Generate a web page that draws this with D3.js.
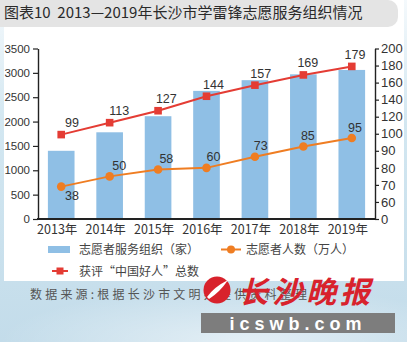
<!DOCTYPE html>
<html>
<head>
<meta charset="utf-8">
<script src="https://cdn.jsdelivr.net/npm/d3@7"></script>
<style>
  html, body { margin: 0; padding: 0; background: #fff; }
  svg { display: block; }
</style>
</head>
<body>
<svg id="chart" width="407" height="342"></svg>
<script>
// 2013–2019 volunteer service data
const years = ["2013年", "2014年", "2015年", "2016年", "2017年", "2018年", "2019年"];
const orgCounts = [1400, 1780, 2110, 2630, 2850, 2970, 3060];   // 志愿者服务组织（家）
const volunteers = [38, 50, 58, 60, 73, 85, 95];                 // 志愿者人数（万人）
const goodPeople = [99, 113, 127, 144, 157, 169, 179];           // 获评“中国好人”总数

const leftTicks = [0, 500, 1000, 1500, 2000, 2500, 3000, 3500];
const rightTickValues = [0, 20, 40, 60, 80, 100, 120, 140, 160, 180, 200];
const rightTickLabels = ["0", "60", "70", "80", "90", "100", "120", "140", "160", "180", "200"];

const titleText = "图表10\u00A0\u00A02013—2019年长沙市学雷锋志愿服务组织情况";
const legendLabels = ["志愿者服务组织（家）", "志愿者人数（万人）", "获评“中国好人”总数"];
const sourceText = "数据来源:根据长沙市文明办提供资料整理";

const C = {
  bar: "#8fbfe5",
  red: "#e43c34",
  orange: "#ef7d22",
  axis: "#222",
  text: "#333"
};
const numFont = "'Liberation Sans', Arial, sans-serif";
const cjkFont = "'Noto Sans CJK SC', 'Noto Sans', sans-serif";

const svg = d3.select("#chart");

// background: pale blue wash behind the white panel
const defs = svg.append("defs");
const bg = defs.append("linearGradient").attr("id", "bgGrad")
  .attr("x1", 0).attr("y1", 0).attr("x2", 0).attr("y2", 1);
bg.append("stop").attr("offset", "0%").attr("stop-color", "#f4f9fc");
bg.append("stop").attr("offset", "35%").attr("stop-color", "#d3e7f1");
bg.append("stop").attr("offset", "100%").attr("stop-color", "#c3dcea");
const haze = defs.append("radialGradient").attr("id", "haze")
  .attr("cx", 0.6).attr("cy", 1).attr("r", 0.6);
haze.append("stop").attr("offset", "0%").attr("stop-color", "#ffffff").attr("stop-opacity", 0.55);
haze.append("stop").attr("offset", "100%").attr("stop-color", "#ffffff").attr("stop-opacity", 0);

svg.append("rect").attr("width", 407).attr("height", 342).attr("fill", "url(#bgGrad)");
svg.append("rect").attr("y", 250).attr("width", 407).attr("height", 92).attr("fill", "url(#haze)");

// white chart panel
svg.append("rect").attr("x", 4).attr("y", 0).attr("width", 400).attr("height", 281).attr("fill", "#fff");

// title bar with rounded right end
svg.append("path")
  .attr("d", "M0,0 H388 A10,10 0 0 1 398,10 V17 A10,10 0 0 1 388,27 H0 Z")
  .attr("fill", "#e4e4e4");
svg.append("text")
  .attr("x", 4).attr("y", 18)
  .attr("font-family", cjkFont).attr("font-size", 15)
  .attr("fill", "#2a2a2a")
  .text(titleText);

// scales
const x = d3.scaleBand().domain(years).range([37, 376]).paddingInner(0.45).paddingOuter(0.225);
const yL = d3.scaleLinear().domain([0, 3500]).range([219, 48.5]);
const yR = d3.scaleLinear().domain([0, 200]).range([219, 48.5]);
const labelX = d3.scalePoint().domain(years).range([72, 355]);
const cx = d => x(d) + x.bandwidth() / 2;

// bars
svg.append("g").selectAll("rect").data(years).join("rect")
  .attr("x", d => x(d))
  .attr("y", (d, i) => yL(orgCounts[i]))
  .attr("width", x.bandwidth())
  .attr("height", (d, i) => yL(0) - yL(orgCounts[i]))
  .attr("fill", C.bar);

// left axis
const gL = svg.append("g").attr("transform", "translate(38,0)")
  .call(d3.axisLeft(yL).tickValues(leftTicks).tickSize(5).tickSizeOuter(0).tickPadding(3).tickFormat(d3.format("d")));
// right axis
const gR = svg.append("g").attr("transform", "translate(375,0)")
  .call(d3.axisRight(yR).tickValues(rightTickValues).tickSize(4).tickSizeOuter(0).tickPadding(2)
    .tickFormat((d, i) => rightTickLabels[i]));

gL.selectAll("text").attr("font-family", numFont).attr("font-size", 11.5).attr("fill", C.text);
gR.selectAll("text").attr("font-family", numFont).attr("font-size", 13).attr("fill", C.text);
[gL, gR].forEach(g => {
  g.select(".domain").attr("stroke", C.axis).attr("stroke-width", 1.4);
  g.selectAll(".tick line").attr("stroke", C.axis).attr("stroke-width", 1.2);
});

// baseline axis with year labels
svg.append("line").attr("x1", 37).attr("x2", 376).attr("y1", 219).attr("y2", 219)
  .attr("stroke", C.axis).attr("stroke-width", 2);
svg.append("g").selectAll("text").data(years).join("text")
  .attr("x", d => cx(d) - 4).attr("y", 234)
  .attr("text-anchor", "middle")
  .attr("font-family", cjkFont).attr("font-size", 12.5).attr("fill", C.text)
  .text(d => d);

// lines
const line = d3.line().x(d => cx(d.year)).y(d => yR(d.value));
const redPts = years.map((year, i) => ({ year, value: goodPeople[i] }));
const orangePts = years.map((year, i) => ({ year, value: volunteers[i] }));

svg.append("path").datum(orangePts).attr("d", line)
  .attr("fill", "none").attr("stroke", C.orange).attr("stroke-width", 2);
svg.append("path").datum(redPts).attr("d", line)
  .attr("fill", "none").attr("stroke", C.red).attr("stroke-width", 2);

svg.append("g").selectAll("circle").data(orangePts).join("circle")
  .attr("cx", d => cx(d.year)).attr("cy", d => yR(d.value)).attr("r", 4.3)
  .attr("fill", C.orange);
svg.append("g").selectAll("rect").data(redPts).join("rect")
  .attr("x", d => cx(d.year) - 3.8).attr("y", d => yR(d.value) - 3.8)
  .attr("width", 7.6).attr("height", 7.6)
  .attr("fill", C.red);

// value labels
svg.append("g").selectAll("text").data(redPts).join("text")
  .attr("x", d => labelX(d.year)).attr("y", d => yR(d.value) - 7.5)
  .attr("text-anchor", "middle")
  .attr("font-family", numFont).attr("font-size", 12.5).attr("fill", C.text)
  .text(d => d.value);
svg.append("g").selectAll("text").data(orangePts).join("text")
  .attr("x", d => labelX(d.year))
  .attr("y", (d, i) => i === 0 ? yR(d.value) + 13 : yR(d.value) - 6.5)
  .attr("text-anchor", "middle")
  .attr("font-family", numFont).attr("font-size", 12.5).attr("fill", C.text)
  .text(d => d.value);

// legend
const lg = svg.append("g").attr("font-family", cjkFont).attr("font-size", 12).attr("fill", "#444");
lg.append("rect").attr("x", 48).attr("y", 246).attr("width", 22).attr("height", 7).attr("fill", C.bar);
lg.append("text").attr("x", 79).attr("y", 253.5).text(legendLabels[0]);

lg.append("line").attr("x1", 221).attr("x2", 241).attr("y1", 249.5).attr("y2", 249.5)
  .attr("stroke", C.orange).attr("stroke-width", 2);
lg.append("circle").attr("cx", 231).attr("cy", 249.5).attr("r", 4).attr("fill", C.orange);
lg.append("text").attr("x", 246).attr("y", 253.5).text(legendLabels[1]);

lg.append("line").attr("x1", 52).attr("x2", 68).attr("y1", 271).attr("y2", 271)
  .attr("stroke", C.red).attr("stroke-width", 2);
lg.append("rect").attr("x", 56.5).attr("y", 267.5).attr("width", 7).attr("height", 7).attr("fill", C.red);
lg.append("text").attr("x", 79).attr("y", 275.5).text(legendLabels[2]);

// source note
svg.append("text")
  .attr("x", 30).attr("y", 299)
  .attr("font-family", cjkFont).attr("font-size", 12).attr("letter-spacing", 3.2)
  .attr("fill", "#555")
  .text(sourceText);

// newspaper mark
const wm = svg.append("g");
wm.append("circle").attr("cx", 217).attr("cy", 290).attr("r", 13.5).attr("fill", "#d8222c");
wm.append("path")
  .attr("d", "M207,297 Q214,287 228,280 Q220,292 209,299 Z")
  .attr("fill", "#fff");
wm.append("text")
  .attr("x", 238).attr("y", 303)
  .attr("font-family", cjkFont).attr("font-weight", "bold").attr("font-style", "italic")
  .attr("font-size", 30).attr("letter-spacing", 4)
  .attr("fill", "#d8222c")
  .text("长沙晚报");
wm.append("rect").attr("x", 201).attr("y", 313).attr("width", 194).attr("height", 20).attr("fill", "#7d7d7d");
wm.append("text")
  .attr("x", 298).attr("y", 330)
  .attr("text-anchor", "middle")
  .attr("font-family", numFont).attr("font-weight", "bold")
  .attr("font-size", 18).attr("letter-spacing", 5)
  .attr("fill", "#fff")
  .text("icswb.com");
</script>
</body>
</html>
